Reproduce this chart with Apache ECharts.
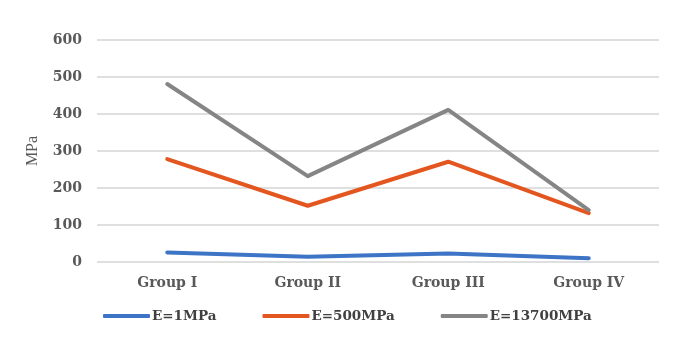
<!DOCTYPE html>
<html>
<head>
<meta charset="utf-8">
<script src="https://cdn.jsdelivr.net/npm/echarts@6/dist/echarts.min.js"></script>
<style>
  html, body { margin: 0; padding: 0; background: #fff; }
  #chart { width: 685px; height: 348px; }
</style>
</head>
<body>
<div id="chart"></div>
<script>
// 数据
var categories = ['Group I', 'Group II', 'Group III', 'Group IV'];
var seriesNames = ['E=1MPa', 'E=500MPa', 'E=13700MPa'];
var e1 = [26, 14, 23, 10];
var e500 = [278, 152, 271, 132];
var e13700 = [481, 232, 411, 140];
var colors = ['#3d74c5', '#e4561f', '#858585'];

var chart = echarts.init(document.getElementById('chart'));
var font = 'DejaVu Serif';

function line(name, data, color) {
  return {
    name: name,
    type: 'line',
    data: data,
    symbol: 'none',
    color: color,
    lineStyle: { width: 4, color: color, cap: 'round', join: 'round' }
  };
}

var option = {
  animation: false,
  grid: { left: 97, right: 26, top: 40, bottom: 86 },
  legend: {
    data: seriesNames,
    top: 304,
    left: 98,
    icon: 'roundRect',
    itemWidth: 47,
    itemHeight: 4,
    itemGap: 46,
    textStyle: { fontFamily: font, fontWeight: 'bold', fontSize: 13.5, color: '#404040', padding: [0, 0, 0, -3] }
  },
  xAxis: {
    type: 'category',
    data: categories,
    boundaryGap: true,
    axisLine: { show: false },
    axisTick: { show: false },
    axisLabel: { fontFamily: font, fontWeight: 'bold', fontSize: 14, color: '#595959', margin: 14 }
  },
  yAxis: {
    type: 'value',
    min: 0,
    max: 600,
    interval: 100,
    name: 'MPa',
    nameLocation: 'middle',
    nameGap: 56,
    nameTextStyle: { fontFamily: 'Liberation Serif', fontSize: 16, color: '#595959' },
    axisLine: { show: false },
    axisTick: { show: false },
    axisLabel: { fontFamily: font, fontWeight: 'bold', fontSize: 14, color: '#595959', margin: 15 },
    splitLine: { lineStyle: { color: '#d4d4d4', width: 1.5 } }
  },
  series: [
    line(seriesNames[0], e1, colors[0]),
    line(seriesNames[1], e500, colors[1]),
    line(seriesNames[2], e13700, colors[2])
  ]
};

chart.setOption(option);
</script>
</body>
</html>
